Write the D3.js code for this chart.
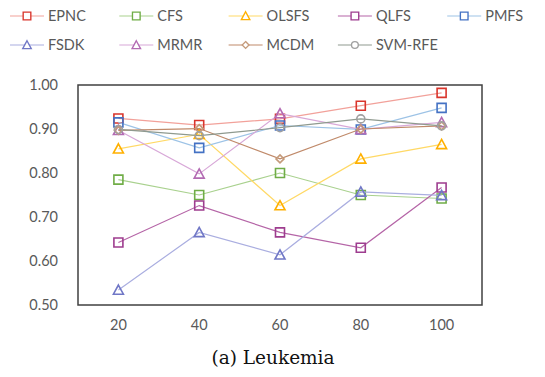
<!DOCTYPE html>
<html>
    <head>
        <script type="text/javascript" src="https://d3js.org/d3.v7.min.js"></script>
        <style>
            body { margin: 0; background: #fff; }
            svg text { font-family: Lato, "Noto Sans", sans-serif; }
        </style>
    </head>

    <body>
        <svg width="545" height="377"></svg>

        <script type="text/javascript">
            // chart data
            var categories = ["20", "40", "60", "80", "100"];
            var seriesNames = ["EPNC", "CFS", "OLSFS", "QLFS", "PMFS", "FSDK", "MRMR", "MCDM", "SVM-RFE"];
            var epnc   = [0.924, 0.909, 0.923, 0.953, 0.982];
            var cfs    = [0.785, 0.750, 0.800, 0.750, 0.742];
            var olsfs  = [0.855, 0.888, 0.726, 0.832, 0.865];
            var qlfs   = [0.642, 0.726, 0.665, 0.630, 0.767];
            var pmfs   = [0.915, 0.857, 0.908, 0.899, 0.948];
            var fsdk   = [0.534, 0.665, 0.614, 0.757, 0.749];
            var mrmr   = [0.897, 0.798, 0.935, 0.899, 0.915];
            var mcdm   = [0.897, 0.901, 0.832, 0.900, 0.907];
            var svmrfe = [0.899, 0.885, 0.903, 0.923, 0.907];
            var yTicks = [0.50, 0.60, 0.70, 0.80, 0.90, 1.00];
            var caption = "(a) Leukemia";

            // look of each series: line colour, marker colour, marker shape
            var styles = [
                {line: "#f2a19a", mark: "#d9352c", shape: "square"},
                {line: "#a9d18e", mark: "#70ad47", shape: "square"},
                {line: "#ffd966", mark: "#ffb000", shape: "triangle"},
                {line: "#b565a7", mark: "#9e3d8f", shape: "square"},
                {line: "#9dc3e6", mark: "#4472c4", shape: "square"},
                {line: "#aaaee0", mark: "#7077c6", shape: "triangle"},
                {line: "#d8a8d8", mark: "#b36bb3", shape: "triangle"},
                {line: "#c08a6a", mark: "#c49a7a", shape: "diamond"},
                {line: "#8f9a8f", mark: "#a0a0a0", shape: "circle"}
            ];
            var allValues = [epnc, cfs, olsfs, qlfs, pmfs, fsdk, mrmr, mcdm, svmrfe];
            var series = seriesNames.map(function(n, i) {
                return {name: n, values: allValues[i], style: styles[i]};
            });

            var svg = d3.select("svg");
            var plot = {left: 78, top: 85, right: 482, bottom: 305};

            var x = d3.scaleBand().domain(categories).range([plot.left, plot.right]);
            var y = d3.scaleLinear().domain([0.5, 1.0]).range([plot.bottom, plot.top]);

            // marker path for a shape centred on 0,0
            function marker(shape) {
                if (shape == "square") return "M-4.5,-4.5h9v9h-9z";
                if (shape == "triangle") return "M0,-5L5,4.2H-5z";
                if (shape == "diamond") return "M0,-4L4,0L0,4L-4,0z";
                return "M-4,0a4,4 0 1,0 8,0a4,4 0 1,0 -8,0";
            }

            // y axis labels
            var yAxis = d3.axisLeft(y).tickValues(yTicks).tickFormat(d3.format(".2f")).tickSize(0).tickPadding(20);
            var gy = svg.append("g").attr("transform", "translate(" + plot.left + ",0)").call(yAxis);
            gy.select(".domain").remove();
            gy.selectAll("text").style("font-size", "14.5px").attr("fill", "#595959");

            // x axis labels
            var xAxis = d3.axisBottom(x).tickSize(0).tickPadding(15);
            var gx = svg.append("g").attr("transform", "translate(0," + plot.bottom + ")").call(xAxis);
            gx.select(".domain").remove();
            gx.selectAll("text").style("font-size", "14.5px").attr("fill", "#595959");

            // plot frame
            svg.append("rect")
                .attr("x", plot.left).attr("y", plot.top)
                .attr("width", plot.right - plot.left).attr("height", plot.bottom - plot.top)
                .style("fill", "none").style("stroke", "#404040").style("stroke-width", 1.5);

            var line = d3.line()
                .x(function(d, i) { return x(categories[i]) + x.bandwidth() / 2; })
                .y(function(d) { return y(d); });

            var groups = svg.selectAll("g.series").data(series).enter()
                .append("g").attr("class", "series");

            groups.append("path")
                .attr("d", function(d) { return line(d.values); })
                .style("fill", "none")
                .style("stroke", function(d) { return d.style.line; })
                .style("stroke-width", 1.2);

            groups.each(function(s) {
                d3.select(this).selectAll("path.mark").data(s.values).enter()
                    .append("path").attr("class", "mark")
                    .attr("d", marker(s.style.shape))
                    .attr("transform", function(d, i) {
                        return "translate(" + (x(categories[i]) + x.bandwidth() / 2) + "," + y(d) + ")";
                    })
                    .style("fill", "none")
                    .style("stroke", s.style.mark)
                    .style("stroke-width", 1.6);
            });

            // legend, two rows of five
            var legend = svg.selectAll("g.legend").data(series).enter()
                .append("g").attr("class", "legend")
                .attr("transform", function(d, i) {
                    return "translate(" + (10 + (i % 5) * 109.3) + "," + (i < 5 ? 16 : 45) + ")";
                });
            legend.append("line")
                .attr("x1", 0).attr("x2", 34).attr("y1", 0).attr("y2", 0)
                .style("stroke", function(d) { return d.style.line; })
                .style("stroke-width", 1.2);
            legend.append("path")
                .attr("d", function(d) { return marker(d.style.shape); })
                .attr("transform", "translate(17,0) scale(0.85)")
                .style("fill", "#fff")
                .style("stroke", function(d) { return d.style.mark; })
                .style("stroke-width", 1.6);
            legend.append("text")
                .attr("x", 38).attr("y", 0).attr("dy", "0.36em")
                .style("font-size", "14.5px")
                .style("fill", "#595959")
                .text(function(d) { return d.name; });

            // caption under the chart
            svg.append("text")
                .attr("x", 273).attr("y", 358).attr("dy", "0.32em")
                .attr("text-anchor", "middle")
                .style("font-family", "'DejaVu Serif', 'Liberation Serif', serif")
                .style("font-size", "18.5px")
                .style("fill", "#111")
                .text(caption);
        </script>
    </body>
</html>
